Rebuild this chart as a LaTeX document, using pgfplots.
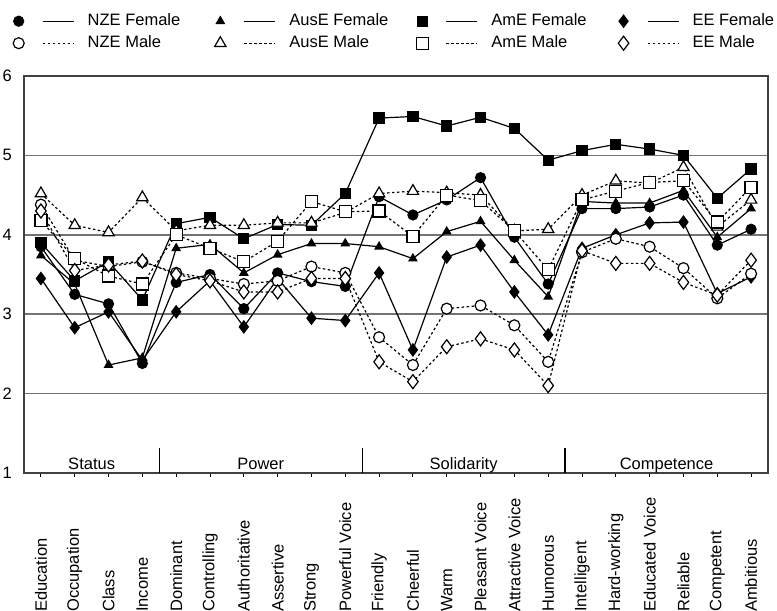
\documentclass[border=0pt]{standalone}
\usepackage{pgfplots}
\usepackage{pgfplotstable}
\usepackage{fontspec}
\setmainfont{Liberation Sans}
\pgfplotsset{compat=1.18}
\pgfplotstableread{
x nzef nzem ausf ausm amf amm eef eem
0 3.85 4.38 3.74 4.52 3.90 4.18 3.45 4.30
1 3.25 3.68 3.38 4.12 3.42 3.70 2.83 3.55
2 3.13 3.60 2.36 4.03 3.66 3.48 3.03 3.62
3 2.38 3.66 2.45 4.47 3.18 3.38 2.42 3.67
4 3.40 3.52 3.83 4.05 4.14 4.00 3.03 3.50
5 3.50 3.45 3.88 4.12 4.22 3.83 3.42 3.42
6 3.07 3.38 3.52 4.12 3.95 3.66 2.84 3.28
7 3.52 3.42 3.75 4.15 4.13 3.92 3.45 3.28
8 3.41 3.60 3.89 4.15 4.12 4.42 2.95 3.45
9 3.35 3.52 3.89 4.28 4.52 4.29 2.92 3.45
10 4.48 2.71 3.85 4.52 5.47 4.30 3.52 2.40
11 4.25 2.36 3.70 4.55 5.49 3.98 2.55 2.15
12 4.44 3.07 4.04 4.53 5.37 4.50 3.72 2.59
13 4.72 3.11 4.17 4.50 5.48 4.43 3.87 2.69
14 3.97 2.86 3.68 4.05 5.34 4.05 3.28 2.55
15 3.38 2.40 3.22 4.07 4.94 3.56 2.74 2.10
16 4.33 3.78 4.42 4.50 5.06 4.44 3.83 3.80
17 4.33 3.95 4.40 4.68 5.14 4.55 4.00 3.64
18 4.35 3.85 4.40 4.65 5.08 4.66 4.15 3.64
19 4.50 3.58 4.56 4.85 5.00 4.68 4.16 3.40
20 3.87 3.20 3.97 4.10 4.46 4.16 3.26 3.24
21 4.07 3.51 4.33 4.44 4.83 4.60 3.47 3.68
}\data
\newcommand{\lfont}{\fontsize{16.5bp}{20bp}\selectfont}
\newcommand{\ent}[1]{\makebox[124bp][l]{#1}}
\begin{document}
\begin{tikzpicture}
\begin{axis}[
  at={(0,0)}, anchor=south west,
  scale only axis, width=744bp, height=397bp,
  xmin=-0.5, xmax=21.5, ymin=1, ymax=6,
  xtick={0,...,21},
  xticklabels={Education,Occupation,Class,Income,Dominant,Controlling,Authoritative,Assertive,Strong,Powerful Voice,Friendly,Cheerful,Warm,Pleasant Voice,Attractive Voice,Humorous,Intelligent,Hard-working,Educated Voice,Reliable,Competent,Ambitious},
  ytick={1,2,3,4,5,6},
  /pgf/number format/assume math mode=true,
  ticklabel style={font=\lfont, inner sep=0pt},
  xticklabel style={yshift=-135bp, rotate=90, anchor=west},
  yticklabel style={xshift=-8bp},
  x tick style={black, line width=1bp},
  major tick length=4bp,
  tick align=outside, xtick pos=bottom,
  ytick style={draw=none},
  ymajorgrids, grid style={black!55, line width=1.6bp},
  axis line style={black!75, line width=1.2bp},
  clip=false,
  legend columns=4,
  legend style={draw=none, fill=none, font=\lfont, inner sep=0pt, column sep=0pt, row sep=0pt,
    at={(axis description cs:0,1)}, anchor=north west, xshift=-11bp, yshift=66bp,
    cells={anchor=west},
    nodes={inner xsep=3bp, inner ysep=2.5bp, text height=13bp, text depth=4bp}},
  legend image code/.code={
    \path[draw=none, fill=none] (-5bp,0) -- (66bp,0);
    \draw[#1, mark=none] (24bp,0) -- (55bp,0);
    \draw[#1] plot coordinates {(0bp,0bp)};
  },
  fem/.style={black, line width=1.2bp, solid, mark options={solid, fill=black}},
  mal/.style={black, line width=1.2bp, dash pattern=on 2.5bp off 2.5bp, mark options={solid, fill=white}},
]
\addplot[fem, mark=*, mark size=5bp] table[x=x, y=nzef] {\data};
\addlegendentry{\ent{NZE Female}}
\addplot[fem, mark=triangle*, mark size=4.5bp] table[x=x, y=ausf] {\data};
\addlegendentry{\ent{AusE Female}}
\addplot[fem, mark=square*, mark size=5bp] table[x=x, y=amf] {\data};
\addlegendentry{\ent{AmE Female}}
\addplot[fem, mark=diamond*, mark size=6bp] table[x=x, y=eef] {\data};
\addlegendentry{\ent{EE Female}}
\addplot[mal, mark=*, mark size=5.5bp] table[x=x, y=nzem] {\data};
\addlegendentry{\ent{NZE Male}}
\addplot[mal, mark=triangle*, mark size=6.5bp] table[x=x, y=ausm] {\data};
\addlegendentry{\ent{AusE Male}}
\addplot[mal, mark=square*, mark size=6bp] table[x=x, y=amm] {\data};
\addlegendentry{\ent{AmE Male}}
\addplot[mal, mark=diamond*, mark size=7bp] table[x=x, y=eem] {\data};
\addlegendentry{\ent{EE Male}}
\draw[black, line width=1.2bp] (axis cs:3.5,1) -- (axis cs:3.5,1.31);
\draw[black, line width=1.2bp] (axis cs:9.5,1) -- (axis cs:9.5,1.31);
\draw[black, line width=1.2bp] (axis cs:15.5,1) -- (axis cs:15.5,1.31);
\node[font=\lfont, anchor=base] at (axis cs:1.5,1.04) {Status};
\node[font=\lfont, anchor=base] at (axis cs:6.5,1.04) {Power};
\node[font=\lfont, anchor=base] at (axis cs:12.5,1.04) {Solidarity};
\node[font=\lfont, anchor=base] at (axis cs:18.5,1.04) {Competence};
\end{axis}
\pgfresetboundingbox
\path[use as bounding box] (-24bp,-138bp) rectangle (753bp,473bp);
\end{tikzpicture}
\end{document}
